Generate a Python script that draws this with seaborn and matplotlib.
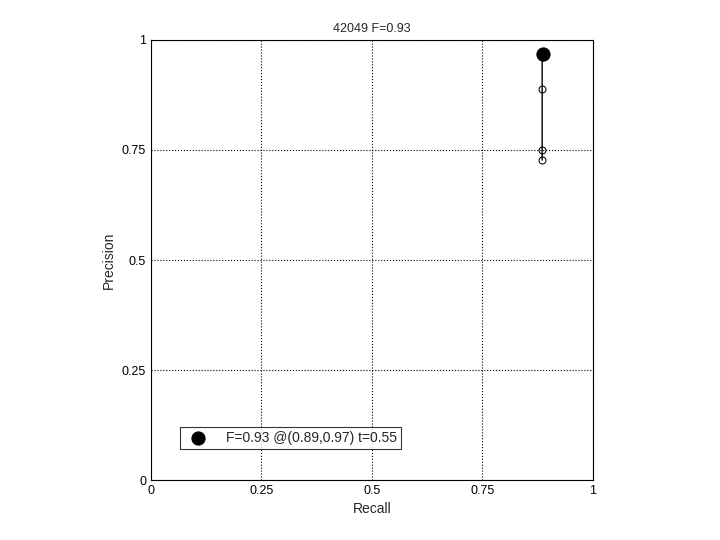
import numpy as np
import pandas as pd
import matplotlib
matplotlib.use("Agg")
import matplotlib.pyplot as plt
import seaborn as sns

# curva precisao x revocacao
recall = [0.885, 0.885, 0.885, 0.885, 0.886, 0.887]
precision = [0.727, 0.75, 0.889, 0.962, 0.966, 0.968]
best_r, best_p = 0.887, 0.968
ticks = [0, 0.25, 0.5, 0.75, 1]
tick_labels = ["0", "0.25", "0.5", "0.75", "1"]

sns.set_style("white")
plt.rcParams["font.family"] = ["Liberation Sans", "DejaVu Sans"]
plt.rcParams["font.size"] = 9

fig = plt.figure(figsize=(7.2, 5.4), dpi=100)
ax = fig.add_axes([0.2097, 0.111, 0.6139, 0.815])

df = pd.DataFrame({"Recall": recall, "Precision": precision})
sns.lineplot(data=df, x="Recall", y="Precision", sort=False, estimator=None,
             color="black", lw=1, marker="o", markersize=5,
             markerfacecolor="none", markeredgecolor="black", ax=ax)
sns.scatterplot(x=[best_r], y=[best_p], color="black", s=90, marker="o",
                edgecolor="black", ax=ax, zorder=5,
                label="F=0.93 @(0.89,0.97) t=0.55")

ax.set_xlim(0, 1)
ax.set_ylim(0, 1)
ax.set_xticks(ticks)
ax.set_xticklabels(tick_labels)
ax.set_yticks(ticks)
ax.set_yticklabels(tick_labels)
ax.grid(True, color="black", linestyle=":", linewidth=0.8)
ax.tick_params(direction="in", length=4, colors="black", labelsize=9)
for s in ax.spines.values():
    s.set_color("black")
    s.set_linewidth(0.8)
ax.set_xlabel("Recall", fontsize=10)
ax.set_ylabel("Precision", fontsize=10)
ax.set_title("42049 F=0.93", fontsize=9)

leg = ax.legend(loc="lower left", bbox_to_anchor=(0.05, 0.055), fontsize=10,
                frameon=True, fancybox=False, edgecolor="black",
                handletextpad=1.0, borderpad=0.3, markerscale=1.0)
leg.get_frame().set_linewidth(0.8)

fig.savefig("out.png", dpi=100)
